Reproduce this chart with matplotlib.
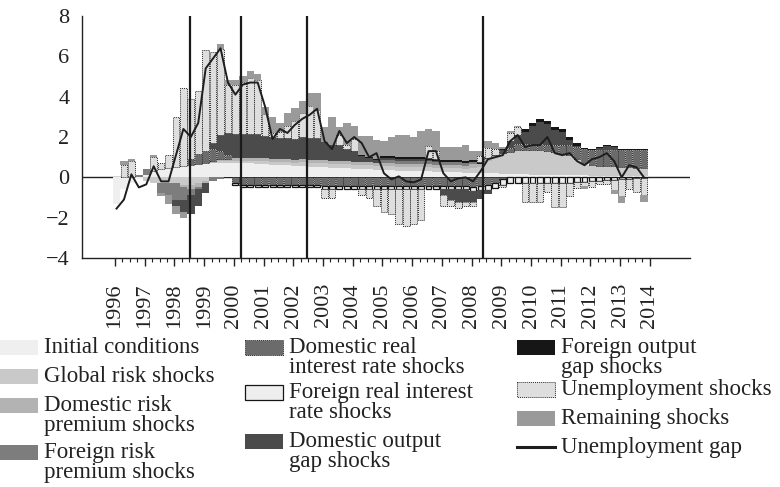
import numpy as np
import matplotlib
matplotlib.use("Agg")
import matplotlib.pyplot as plt
from matplotlib.patches import Rectangle

plt.rcParams["font.family"] = ["Liberation Serif", "DejaVu Serif"]

# quarterly data, 1996Q1 - 2013Q4
years = list(range(1996, 2015))
events = [1998.52, 2000.25, 2002.46, 2008.37]

initial = [
    -1.3, -0.6, -0.3, -0.1,
    0.1, 0.3, 0.4, 0.45,
    0.5, 0.55, 0.6, 0.65,
    0.7, 0.7, 0.7, 0.7,
    0.7, 0.7, 0.7, 0.65,
    0.65, 0.6, 0.6, 0.6,
    0.55, 0.55, 0.5, 0.5,
    0.5, 0.45, 0.45, 0.45,
    0.4, 0.4, 0.4, 0.35,
    0.35, 0.35, 0.3, 0.3,
    0.3, 0.3, 0.3, 0.25,
    0.25, 0.25, 0.25, 0.2,
    0.2, 0.2, 0.2, 0.2,
    0.15, 0.15, 0.15, 0.15,
    0.1, 0.1, 0.1, 0.1,
    0.1, 0.1, 0.1, 0.1,
    0.05, 0.05, 0.05, 0.05,
    0.05, 0.05, 0.05, 0.05,
]
global_risk = [
    0, 0, 0, 0,
    -0.2, -0.3, -0.3, -0.3,
    -0.3, -0.4, -0.4, -0.3,
    -0.2, 0.0, 0.1, 0.1,
    0.1, 0.1, 0.1, 0.15,
    0.15, 0.15, 0.15, 0.15,
    0.15, 0.2, 0.2, 0.2,
    0.2, 0.2, 0.2, 0.2,
    0.2, 0.2, 0.2, 0.2,
    0.2, 0.2, 0.2, 0.2,
    0.2, 0.2, 0.2, 0.2,
    0.2, 0.2, 0.2, 0.2,
    0.25, 0.3, 0.6, 0.8,
    1.0, 1.1, 1.2, 1.2,
    1.25, 1.25, 1.2, 1.15,
    1.1, 1.0, 0.8, 0.6,
    0.55, 0.5, 0.5, 0.5,
    0.45, 0.45, 0.4, 0.4,
]
dom_risk_prem = [
    0, 0, 0, 0,
    0, 0, 0, 0,
    0, -0.1, -0.2, -0.2,
    -0.1, 0.1, 0.1, 0.1,
    0.15, 0.15, 0.15, 0.15,
    0.15, 0.15, 0.15, 0.15,
    0.15, 0.15, 0.15, 0.15,
    0.15, 0.15, 0.15, 0.15,
    0.15, 0.15, 0.15, 0.15,
    0.15, 0.15, 0.15, 0.15,
    0.15, 0.15, 0.15, 0.15,
    0.15, 0.15, 0.15, 0.15,
    0.2, 0.15, 0.1, 0.05,
    0, 0, 0, 0,
    0, 0, 0, 0,
    0, 0, 0, 0,
    0, 0, 0, 0,
    0, 0, 0, 0,
]
for_risk_prem = [
    0, 0, 0, 0.1,
    0.3, 0, -0.5, -0.6,
    -0.8, -0.6, -0.3, -0.1,
    0, -0.2, -0.1, 0,
    0, 0, 0, 0,
    0, 0, 0, 0,
    0, 0, 0, 0,
    0, 0, 0, 0,
    0, 0, 0, 0,
    0.15, 0.15, 0.15, 0.15,
    0.15, 0.15, 0.15, 0.15,
    0.15, 0.15, 0.15, 0.15,
    0.1, 0, 0, 0,
    0, 0, 0, 0,
    0, 0, 0, 0,
    0, 0, 0, 0,
    0, 0, 0, 0,
    0, 0, 0, 0,
]
dom_real_rate = [
    0, 0, 0, 0,
    0, 0, 0, 0,
    0, 0, 0.3, 0.5,
    0.6, 0.6, 0.4, 0.2,
    -0.3, -0.4, -0.4, -0.4,
    -0.4, -0.4, -0.4, -0.4,
    -0.4, -0.4, -0.4, -0.4,
    -0.45, -0.45, -0.45, -0.45,
    -0.45, -0.45, -0.45, -0.45,
    -0.45, -0.45, -0.45, -0.45,
    -0.45, -0.45, -0.45, -0.45,
    -0.45, -0.45, -0.45, -0.45,
    -0.5, -0.45, -0.4, -0.3,
    -0.1, 0.2, 0.3, 0.3,
    0.3, 0.3, 0.3, 0.35,
    0.4, 0.5, 0.6, 0.7,
    0.75, 0.8, 0.8, 0.8,
    0.85, 0.85, 0.9, 0.9,
]
for_real_rate = [
    0, 0, 0, 0,
    0, 0, 0, 0,
    0, 0, 0, 0,
    0, 0, 0, 0,
    -0.1, -0.1, -0.1, -0.1,
    -0.1, -0.1, -0.1, -0.1,
    -0.1, -0.1, -0.1, -0.1,
    -0.15, -0.15, -0.15, -0.15,
    -0.15, -0.15, -0.15, -0.15,
    -0.15, -0.15, -0.15, -0.15,
    -0.15, -0.15, -0.15, -0.15,
    -0.15, -0.15, -0.15, -0.15,
    -0.2, -0.2, -0.25, -0.25,
    -0.3, -0.3, -0.3, -0.3,
    -0.3, -0.3, -0.3, -0.3,
    -0.3, -0.3, -0.25, -0.25,
    -0.2, -0.2, -0.15, -0.15,
    -0.1, -0.1, -0.05, -0.05,
]
dom_output_gap = [
    0, 0, 0, 0,
    0, 0, 0, 0,
    -0.3, -0.6, -0.9, -0.8,
    -0.5, 0.3, 0.8, 1.1,
    1.2, 1.2, 1.2, 1.2,
    1.1, 1.1, 1.05, 1.05,
    1.05, 1.1, 1.1, 1.1,
    0.9, 0.8, 0.8, 0.6,
    0.5, 0.3, 0.2, 0.15,
    0.1, 0.1, 0.1, 0.1,
    0.1, 0.1, 0.05, 0.05,
    -0.3, -0.5, -0.6, -0.6,
    -0.5, -0.4, -0.2, 0.0,
    0.2, 0.3, 0.4, 0.6,
    0.9, 1.1, 1.05, 0.75,
    0.65, 0.25, 0.05, 0.0,
    0.0, 0.1, 0.2, 0.15,
    0, 0, 0, 0,
]
for_output_gap = [
    0, 0, 0, 0,
    0, 0, 0, 0,
    0, 0, 0, 0,
    0, 0, 0, 0,
    0, 0, 0, 0,
    0, 0, 0, 0,
    0, 0, 0, 0,
    0, 0, 0, 0,
    0.05, 0.05, 0.05, 0.05,
    0.12, 0.12, 0.12, 0.12,
    0.12, 0.12, 0.12, 0.12,
    0.12, 0.12, 0.12, 0.12,
    0.12, 0.12, 0.05, 0.05,
    0.05, 0.05, 0.05, 0.15,
    0.15, 0.15, 0.15, 0.15,
    0.15, 0.15, 0.15, 0.05,
    0.05, 0.05, 0.05, 0.05,
    0.05, 0.05, 0.05, 0.05,
]
unemp_shocks = [
    0, 0.6, 0.8, 0,
    0, 0.7, 0.3, 0.65,
    2.5, 3.9, 3.0, 3.15,
    5.0, 4.5, 4.25, 2.4,
    2.45, 2.6, 2.8, 2.7,
    1.1, 0.2, 0.3, 0.6,
    0.9, 1.2, 1.6, 1.4,
    -0.4, -0.4, 0.5, 0.2,
    0.6, -0.3, -0.4, -0.8,
    -1.1, -1.2, -1.7, -1.8,
    -1.7, -1.5, 0.6, 0.4,
    -0.5, -0.3, -0.3, -0.2,
    -0.2, 0.3, 0.5, 0.3,
    -0.1, 0.4, 0.4, -0.9,
    -0.9, -0.9, -0.45, -1.15,
    -1.15, -0.65, -0.3, -0.2,
    -0.3, -0.15, -0.2, -0.5,
    -0.85, -0.5, -0.7, -0.85,
]
remaining = [
    0, 0.2, 0.1, 0,
    0, 0.1, -0.15, -0.4,
    -0.4, -0.3, 0, 0,
    0, 0, 0.25, 0.25,
    0.25, 0.25, 0.3, 0.25,
    0.35, 0.8, 0.45, 0.65,
    0.65, 0.6, 0.65, 0.85,
    0.75, 1.4, 0.4, 1.1,
    0.65, 0.95, 1.05, 0.95,
    0.73, 0.93, 1.08, 1.08,
    0.98, 1.28, 0.83, 0.98,
    0.63, 0.63, 0.63, 0.78,
    0.43, 0.23, 0.35, 0.3,
    0.1, 0.1, 0.05, 0,
    0, 0, 0, 0,
    0, 0, 0, -0.15,
    0, 0, 0, -0.2,
    -0.3, 0, 0, -0.3,
]
unemp_gap = [
    -1.55, -1.1, 0.15, -0.5, -0.35, 0.55, -0.2, -0.2,
    1.1, 2.4, 2.0, 2.7, 5.4, 5.9, 6.4, 4.7,
    4.1, 4.6, 4.7, 4.7, 3.5, 1.9, 2.4, 2.2,
    2.6, 2.9, 3.1, 3.4, 1.8, 1.4, 2.3, 1.7,
    2.0, 1.7, 1.0, 1.2, 0.2, -0.1, 0.05, -0.2,
    -0.25, -0.1, 1.3, 1.3, 0.2, -0.2, -0.05, 0.0,
    -0.2, 0.3, 0.9, 1.0, 1.1, 1.8, 2.1, 1.5,
    1.6, 1.6, 2.0, 1.2, 1.1, 1.2, 0.8, 0.6,
    0.9, 1.0, 1.2, 0.8, 0.0, 0.6, 0.5, 0.0,
]

plain = dict(width=1.0, linewidth=0)
dotted = dict(width=0.9, edgecolor="#2a2a2a", linewidth=0.7, linestyle=(0, (1, 1)))
components = [
    ("Initial conditions", initial, dict(plain, color="#efefef")),
    ("Global risk shocks", global_risk, dict(plain, color="#c9c9c9")),
    ("Domestic risk premium shocks", dom_risk_prem, dict(plain, color="#b3b3b3")),
    ("Foreign risk premium shocks", for_risk_prem, dict(plain, color="#7d7d7d")),
    ("Domestic real interest rate shocks", dom_real_rate, dict(dotted, facecolor="#6b6b6b")),
    ("Foreign real interest rate shocks", for_real_rate,
     dict(width=0.8, facecolor="#eeeeee", edgecolor="#151515", linewidth=0.9)),
    ("Domestic output gap shocks", dom_output_gap, dict(plain, color="#4b4b4b")),
    ("Foreign output gap shocks", for_output_gap, dict(plain, color="#161616")),
    ("Unemployment shocks", unemp_shocks, dict(dotted, facecolor="#dedede")),
    ("Remaining shocks", remaining, dict(plain, color="#9a9a9a")),
]

fig = plt.figure(figsize=(7.8, 4.87), dpi=100)
ax = fig.add_axes([82 / 780, 1 - 258 / 487, 608 / 780, 242 / 487])

n = len(unemp_gap)
x = np.arange(n) + 0.2
pos_base = np.zeros(n)
neg_base = np.zeros(n)
for name, vals, style in components:
    v = np.asarray(vals, dtype=float)
    for part, base in ((np.clip(v, 0, None), pos_base), (np.clip(v, None, 0), neg_base)):
        m = part != 0
        ax.bar(x[m], part[m], bottom=base[m], zorder=2, **style)
        base += part

ax.axhline(0, color="#222222", lw=1.0, zorder=1)
for ev in events:
    ax.axvline((ev - years[0]) * 4, color="#1a1a1a", lw=1.6, zorder=3)
ax.plot(x, unemp_gap, color="#1e1e1e", lw=1.4, zorder=4)

ax.set_xlim(-4.45, 77.4)
ax.set_ylim(-4, 8)
ax.set_yticks(range(-4, 9, 2))
ax.set_xticks([(y - years[0]) * 4 for y in years])
ax.set_xticklabels([str(y) for y in years], rotation=90)
ax.set_xticks(np.arange(0, (years[-1] - years[0]) * 4 + 1), minor=True)
ax.tick_params(axis="x", which="major", length=6, width=1, direction="out", pad=12,
               labelsize=16, colors="#222222")
ax.tick_params(axis="x", which="minor", length=3, width=0.8, direction="out", colors="#222222")
ax.tick_params(axis="y", length=0, pad=9, labelsize=16, colors="#222222")
for s in ("top", "right"):
    ax.spines[s].set_visible(False)
for s in ("left", "bottom"):
    ax.spines[s].set_color("#222222")
    ax.spines[s].set_linewidth(1.0)

# legend drawn in pixel coordinates
lax = fig.add_axes([0, 0, 1, 1], zorder=-1)
lax.set_xlim(0, 780)
lax.set_ylim(487, 0)
lax.axis("off")
col_x = [0, 245, 517]
entries = [
    (0, 347, "Initial conditions"),
    (0, 376, "Global risk shocks"),
    (0, 405, "Domestic risk\npremium shocks"),
    (0, 452, "Foreign risk\npremium shocks"),
    (1, 347, "Domestic real\ninterest rate shocks"),
    (1, 392, "Foreign real interest\nrate shocks"),
    (1, 441, "Domestic output\ngap shocks"),
    (2, 347, "Foreign output\ngap shocks"),
    (2, 389, "Unemployment shocks"),
    (2, 418, "Remaining shocks"),
    (2, 447, "Unemployment gap"),
]
handle_style = {name: style for name, _, style in components}
for col, yc, label in entries:
    x0 = col_x[col]
    key = label.replace("\n", " ")
    if key in handle_style:
        st = dict(handle_style[key])
        st.pop("width", None)
        fc = st.pop("facecolor", st.pop("color", None))
        lax.add_patch(Rectangle((x0, yc - 7.5), 38, 15, facecolor=fc,
                                edgecolor=st.get("edgecolor", "none"),
                                linewidth=st.get("linewidth", 0),
                                linestyle=st.get("linestyle", "-")))
    else:
        lax.plot([x0, x0 + 38], [yc, yc], color="#1e1e1e", lw=2.2)
    for j, line in enumerate(label.split("\n")):
        lax.text(x0 + 44, yc + 6 + 20 * j, line, fontsize=16.5, color="#222222",
                 va="baseline", ha="left")

fig.savefig("out.png", dpi=100)
